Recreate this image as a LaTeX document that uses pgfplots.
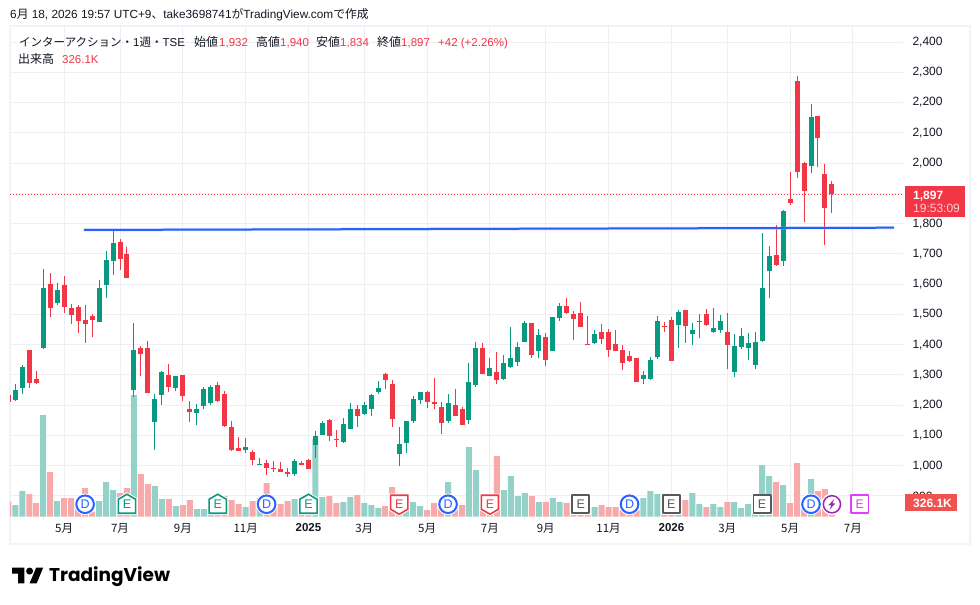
\documentclass[border=0pt]{standalone}
\usepackage{fontspec}
\usepackage{pgfplots}
\usepackage{pgfplotstable}
\pgfplotsset{compat=1.18}
\setmainfont{Liberation Sans}
\newfontfamily\jp{Noto Sans CJK JP}
\newfontfamily\logofont{Poppins}

\definecolor{upc}{HTML}{089981}
\definecolor{downc}{HTML}{F23645}
\definecolor{upv}{HTML}{94D2C9}
\definecolor{downv}{HTML}{F8A9A9}
\definecolor{txt}{HTML}{131722}
\definecolor{gridc}{HTML}{EEEFF2}
\definecolor{framec}{HTML}{F0F3FA}
\definecolor{bluec}{HTML}{2962FF}
\definecolor{grayc}{HTML}{595959}
\definecolor{pinkc}{HTML}{E040FB}
\definecolor{purplec}{HTML}{9C27B0}
\definecolor{volbox}{HTML}{EF5350}

% week  open high low close volume(K)
\pgfplotstableread{
i o h l c v
0 1217 1270 1214 1250 300
1 1258 1333 1238 1326 659
4 1389 1650 1386 1587 2611
6 1539 1604 1532 1581 402
12 1475 1614 1475 1587 402
13 1598 1709 1555 1680 890
14 1677 1779 1631 1736 685
17 1250 1471 1228 1382 3124
20 1144 1237 1053 1220 788
21 1234 1313 1202 1310 454
23 1257 1296 1247 1296 274
26 1174 1204 1134 1187 197
27 1197 1260 1187 1253 197
28 1207 1267 1200 1260 171
33 1052 1091 1043 1062 248
35 1002 1025 1002 1005 479
40 972 1022 966 1015 454
43 1068 1115 1025 1098 1994
44 1101 1148 1101 1141 505
47 1078 1158 1075 1138 377
48 1121 1207 1121 1187 505
50 1171 1210 1167 1200 351
51 1187 1237 1164 1234 300
52 1243 1280 1237 1257 223
55 1039 1128 999 1072 68
56 1075 1148 1042 1148 300
57 1148 1230 1141 1220 377
58 1217 1243 1204 1243 274
62 1148 1237 1141 1207 890
65 1151 1339 1138 1277 1789
66 1267 1409 1260 1389 1198
68 1296 1356 1296 1323 68
70 1286 1366 1283 1339 685
71 1326 1458 1323 1356 1044
72 1343 1409 1329 1392 531
73 1409 1478 1409 1471 608
75 1379 1452 1356 1432 377
77 1379 1491 1379 1491 479
78 1488 1538 1478 1528 377
83 1405 1448 1402 1435 248
90 1286 1313 1270 1300 479
91 1286 1359 1283 1349 659
92 1359 1495 1353 1478 582
95 1465 1514 1389 1508 86
97 1435 1471 1399 1448 608
98 1474 1501 1422 1478 325
100 1442 1521 1438 1455 325
101 1448 1498 1438 1478 248
103 1310 1435 1293 1395 377
104 1392 1455 1386 1429 223
105 1389 1438 1349 1405 325
106 1333 1442 1319 1409 257
107 1412 1769 1409 1587 1327
108 1643 1726 1554 1693 1044
110 1676 1845 1660 1842 813
114 1990 2195 1967 2152 967
}\upweeks

\pgfplotstableread{
i o h l c v
-1 1234 1234 1212 1212 385
2 1382 1382 1258 1274 582
3 1286 1313 1271 1273 351
5 1600 1637 1492 1522 1147
7 1597 1627 1506 1524 479
8 1521 1534 1469 1498 479
9 1524 1531 1440 1478 342
10 1481 1531 1406 1468 736
11 1495 1501 1426 1481 128
15 1739 1749 1648 1683 608
16 1700 1723 1620 1620 736
18 1389 1395 1297 1369 1096
19 1389 1412 1240 1240 839
22 1300 1336 1243 1260 454
24 1300 1300 1214 1230 300
25 1187 1214 1144 1177 428
29 1267 1277 1210 1214 257
30 1237 1247 1128 1131 531
31 1128 1148 1048 1052 428
32 1058 1095 1048 1048 325
34 1045 1052 1002 1019 402
36 1009 1019 969 992 865
37 992 1015 979 988 428
38 989 1012 979 979 325
39 979 992 963 972 402
41 1009 1015 1002 1002 428
42 1019 1022 989 989 257
45 1151 1154 1082 1098 531
46 1088 1118 1062 1084 351
49 1187 1200 1128 1164 556
53 1303 1306 1253 1283 274
54 1270 1283 1128 1154 762
59 1243 1247 1191 1210 171
60 1210 1290 1187 1204 351
61 1194 1210 1105 1141 248
63 1200 1253 1164 1164 197
64 1187 1194 1134 1134 300
67 1389 1405 1303 1303 257
69 1310 1376 1270 1283 1558
74 1471 1471 1356 1366 531
76 1425 1438 1329 1349 377
79 1528 1554 1501 1505 351
80 1501 1511 1415 1485 86
81 1505 1541 1458 1458 86
82 1402 1495 1398 1398 68
84 1442 1468 1402 1419 300
85 1442 1452 1359 1382 248
86 1402 1448 1379 1379 248
87 1382 1399 1316 1339 171
88 1362 1379 1343 1346 86
89 1356 1356 1277 1277 171
93 1462 1475 1442 1458 86
94 1481 1491 1346 1346 86
96 1514 1514 1405 1462 428
99 1501 1518 1462 1465 248
102 1442 1505 1319 1399 377
109 1696 1795 1660 1663 890
111 1881 1971 1861 1868 351
112 2271 2288 1951 1971 1378
113 2000 2004 1805 1908 342
115 2156 2156 1987 2083 659
116 1964 1997 1729 1852 710
117 1932 1940 1834 1897 326
}\downweeks

% event badges along the bottom of the chart
\newcommand{\badgeletter}[2]{\pgftext{\color{#1}\fontsize{12.5}{12}\selectfont #2}}
\pgfdeclareplotmark{evD}{%
  \pgfsetfillcolor{white}\pgfsetstrokecolor{white}\pgfsetlinewidth{1.5pt}%
  \pgfpathcircle{\pgfpointorigin}{10pt}\pgfusepath{fill,stroke}%
  \pgfsetstrokecolor{bluec}\pgfsetlinewidth{2pt}\pgfsetfillcolor{white}%
  \pgfpathcircle{\pgfpointorigin}{8.8pt}\pgfusepath{fill,stroke}%
  \badgeletter{bluec}{D}}
\newcommand{\housepath}[1]{% #1=1 peak up, #1=-1 peak down
  \pgfpathmoveto{\pgfpoint{-8.6pt}{#1*-9pt}}%
  \pgfpathlineto{\pgfpoint{8.6pt}{#1*-9pt}}%
  \pgfpathlineto{\pgfpoint{8.6pt}{#1*5pt}}%
  \pgfpathlineto{\pgfpoint{0pt}{#1*10pt}}%
  \pgfpathlineto{\pgfpoint{-8.6pt}{#1*5pt}}%
  \pgfpathclose}
\pgfdeclareplotmark{evEup}{%
  \pgfsetlinewidth{3.5pt}\pgfsetstrokecolor{white}\housepath{1}\pgfusepath{stroke}%
  \pgfsetlinewidth{1.6pt}\pgfsetstrokecolor{upc}\pgfsetfillcolor{white}\housepath{1}\pgfusepath{fill,stroke}%
  \badgeletter{upc}{E}}
\pgfdeclareplotmark{evEdown}{%
  \pgfsetlinewidth{3.5pt}\pgfsetstrokecolor{white}\housepath{-1}\pgfusepath{stroke}%
  \pgfsetlinewidth{1.6pt}\pgfsetstrokecolor{downc}\pgfsetfillcolor{white}\housepath{-1}\pgfusepath{fill,stroke}%
  \badgeletter{downc}{E}}
\newcommand{\squarebadge}[1]{%
  \pgfsetlinewidth{3.5pt}\pgfsetstrokecolor{white}%
  \pgfpathrectangle{\pgfpoint{-8.6pt}{-9pt}}{\pgfpoint{17.2pt}{18pt}}\pgfusepath{stroke}%
  \pgfsetlinewidth{1.6pt}\pgfsetstrokecolor{#1}\pgfsetfillcolor{white}\pgfsetroundjoin%
  \pgfpathrectangle{\pgfpoint{-8.6pt}{-9pt}}{\pgfpoint{17.2pt}{18pt}}\pgfusepath{fill,stroke}%
  \badgeletter{#1}{E}}
\pgfdeclareplotmark{evEgray}{\squarebadge{grayc}}
\pgfdeclareplotmark{evEpink}{\squarebadge{pinkc}}
\pgfdeclareplotmark{evBolt}{%
  \pgfsetfillcolor{white}\pgfsetstrokecolor{white}\pgfsetlinewidth{1.5pt}%
  \pgfpathcircle{\pgfpointorigin}{10pt}\pgfusepath{fill,stroke}%
  \pgfsetstrokecolor{purplec}\pgfsetlinewidth{1.5pt}\pgfsetfillcolor{white}%
  \pgfpathcircle{\pgfpointorigin}{8.6pt}\pgfusepath{fill,stroke}%
  \pgfsetfillcolor{purplec}%
  \pgfpathmoveto{\pgfpoint{2.5pt}{5.5pt}}\pgfpathlineto{\pgfpoint{-3.5pt}{-1pt}}%
  \pgfpathlineto{\pgfpoint{-0.5pt}{-1pt}}\pgfpathlineto{\pgfpoint{-2.5pt}{-5.5pt}}%
  \pgfpathlineto{\pgfpoint{3.5pt}{1pt}}\pgfpathlineto{\pgfpoint{0.5pt}{1pt}}\pgfpathclose%
  \pgfusepath{fill}}

\pgfplotsset{
  panel/.style={
    at={(10pt,-516.7pt)}, anchor=south west,
    scale only axis, width=893pt, height=490.7pt,
    xmin=-0.76, xmax=127.18,
  },
  pricescale/.style={ymin=831.5, ymax=2453},
  stick/.style 2 args={draw=none,no markers,forget plot,error bars/.cd,y dir=plus,y explicit,error mark=none,
    error bar style={draw=#1,line width=#2}},
}

\begin{document}
\begin{tikzpicture}[x=1pt,y=-1pt,font=\fontsize{11.5}{14}\selectfont,
    lbl/.style={anchor=base west,inner sep=0pt,text=txt},
    lblr/.style={anchor=base west,inner sep=0pt,text=downc}]
  \fill[white] (0,0) rectangle (980,605);
  \draw[framec,line width=2pt] (10,26) rectangle (970,544);

  % grid and tick labels, behind everything
  \begin{axis}[panel, pricescale,
      axis line style={draw=none}, major tick length=0pt,
      grid=major, grid style={gridc,line width=1pt},
      xtick={7,15,24,33,42,50,59,68,76,85,94,102,111,120},
      xticklabels={5月,7月,9月,11月,{\rmfamily\bfseries 2025},3月,5月,7月,9月,11月,{\rmfamily\bfseries 2026},3月,5月,7月},
      xticklabel style={font=\jp\fontsize{11.5}{14}\selectfont,text=txt,yshift=-3pt},
      ytick={900,1000,...,2400},
      % 1,900 sits under the last price box
      yticklabels={900,{1,000},{1,100},{1,200},{1,300},{1,400},{1,500},{1,600},{1,700},{1,800},{},{2,000},{2,100},{2,200},{2,300},{2,400}},
      yticklabel pos=right,
      yticklabel style={anchor=west,xshift=6pt,font=\fontsize{12}{14}\selectfont,text=txt},
    ]
    \addplot[draw=none] coordinates {(0,1000)};
  \end{axis}

  % volume panel
  \begin{axis}[panel, hide axis, ymin=0, ymax=12611]
    \addplot[ybar,bar width=6pt,bar shift=0pt,fill=upv,draw=none] table[x=i,y=v] {\upweeks};
    \addplot[ybar,bar width=6pt,bar shift=0pt,fill=downv,draw=none] table[x=i,y=v] {\downweeks};
    \addplot[only marks,mark=evEup] coordinates {(16,320) (29,320) (42,320)};
    \addplot[only marks,mark=evEdown] coordinates {(55,320) (68,320)};
    \addplot[only marks,mark=evEgray] coordinates {(81,320) (94,320) (107,320)};
    \addplot[only marks,mark=evD] coordinates {(10,320) (36,320) (62,320) (88,320) (114,320)};
    \addplot[only marks,mark=evBolt] coordinates {(117,320)};
    \addplot[only marks,mark=evEpink] coordinates {(121,320)};
  \end{axis}

  % candles, blue trend line, last price line
  \begin{axis}[panel, pricescale, hide axis]
    \addplot[downc,line width=1pt,dash pattern=on 1pt off 2pt] coordinates {(-0.76,1897) (127.18,1897)};
    \addplot[stick={upc}{1pt}]
      table[x=i,y=l,y error plus expr=\thisrow{h}-\thisrow{l}] {\upweeks};
    \addplot[stick={upc}{5pt}]
      table[x=i,y=o,y error plus expr=\thisrow{c}-\thisrow{o}] {\upweeks};
    \addplot[stick={downc}{1pt}]
      table[x=i,y=l,y error plus expr=\thisrow{h}-\thisrow{l}] {\downweeks};
    \addplot[stick={downc}{5pt}]
      table[x=i,y=c,y error plus expr=\thisrow{o}-\thisrow{c}] {\downweeks};
    \addplot[bluec!35,line width=3pt,opacity=.6] coordinates {(9.84,1779) (125.9,1786.5)};
    \addplot[bluec,line width=2pt] coordinates {(9.84,1779) (125.9,1786.5)};
  \end{axis}

  % last price and volume labels
  \fill[downc] (905,186) rectangle (965,216.7);
  \node[anchor=base west,inner sep=0pt,text=white,font=\fontsize{12}{14}\bfseries\selectfont] at (913,199) {1,897};
  \node[anchor=base west,inner sep=0pt,text=white!75!downc,font=\fontsize{12}{14}\selectfont] at (913,212) {19:53:09};
  \fill[volbox] (905,494) rectangle (956.7,511);
  \node[anchor=base west,inner sep=0pt,text=white,font=\fontsize{12}{14}\bfseries\selectfont] at (913,507) {326.1K};

  % header text
  \node[lbl,font=\fontsize{11.8}{14}\selectfont] at (10,19) {6{\jp 月} 18, 2026 19:57 UTC+9{\jp 、}take3698741{\jp が}TradingView.com{\jp で作成}};
  \node[lbl,font=\fontsize{11.5}{14}\selectfont] at (19,46) {{\jp インターアクション・}1{\jp 週・}TSE};
  \node[lbl,font=\jp\fontsize{12}{14}\selectfont] at (194,46) {始値};
  \node[lblr] at (219,46) {1,932};
  \node[lbl,font=\jp\fontsize{12}{14}\selectfont] at (256,46) {高値};
  \node[lblr] at (280,46) {1,940};
  \node[lbl,font=\jp\fontsize{12}{14}\selectfont] at (316,46) {安値};
  \node[lblr] at (340,46) {1,834};
  \node[lbl,font=\jp\fontsize{12}{14}\selectfont] at (377,46) {終値};
  \node[lblr] at (401,46) {1,897};
  \node[lblr] at (438,46) {+42 (+2.26\%)};
  \node[lbl,font=\jp\fontsize{12}{14}\selectfont] at (18,63.5) {出来高};
  \node[lblr] at (62,63.5) {326.1K};

  % TradingView logo
  \begin{scope}[shift={(12,564)},x=.88pt,y=-.88pt]
    \fill[black] (0,4)--(14,4)--(14,22)--(7,22)--(7,11)--(0,11)--cycle;
    \fill[black] (20,8) circle[radius=4];
    \fill[black] (20,22)--(27.5,4)--(35.5,4)--(28,22)--cycle;
  \end{scope}
  \node[anchor=base west,inner sep=0pt,text=black,font=\logofont\bfseries\fontsize{18.5}{24}\selectfont] at (49,581.5) {TradingView};
\end{tikzpicture}
\end{document}
